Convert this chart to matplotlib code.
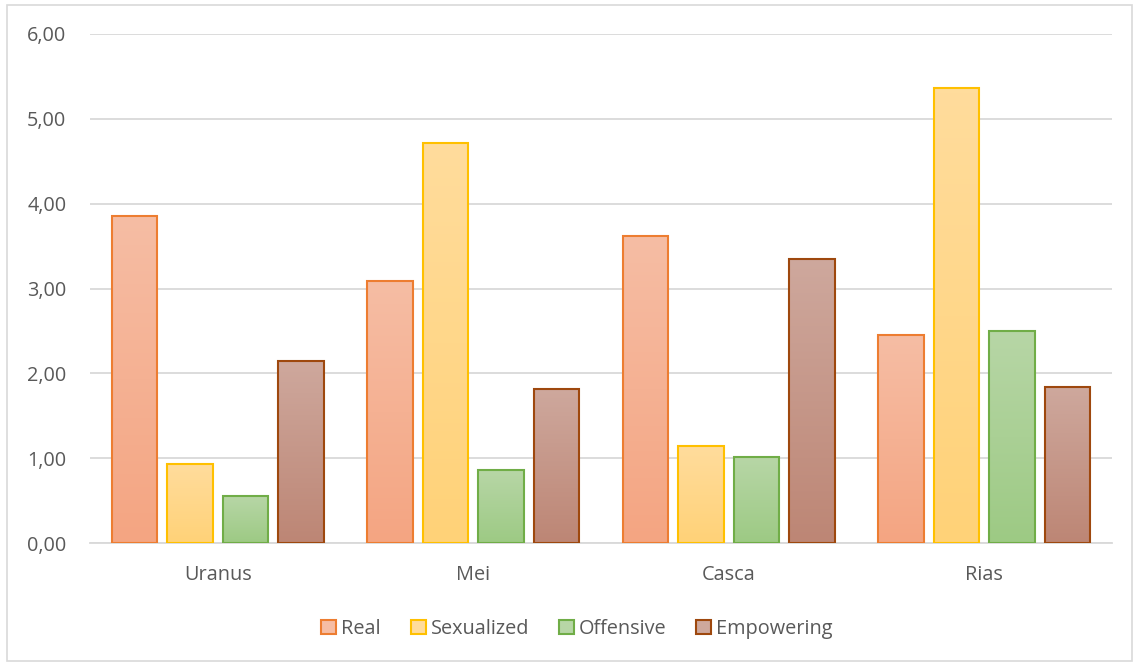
import numpy as np
import matplotlib.pyplot as plt
import matplotlib.colors as mcolors
from matplotlib.patches import Rectangle, Patch

# Dados
personagens = ['Uranus', 'Mei', 'Casca', 'Rias']
real = [3.86, 3.09, 3.62, 2.45]
sexualized = [0.93, 4.72, 1.14, 5.36]
offensive = [0.55, 0.86, 1.01, 2.50]
empowering = [2.15, 1.82, 3.35, 1.84]

series = ['Real', 'Sexualized', 'Offensive', 'Empowering']
valores = [real, sexualized, offensive, empowering]

# cor topo, cor base, cor borda
cores = [('#F6BDA4', '#F4A582', '#ED7D31'),
         ('#FFDC9C', '#FFD278', '#FFC000'),
         ('#B7D6A6', '#9DCA84', '#70AD47'),
         ('#CEA89D', '#BD8675', '#9E480E')]

plt.rcParams['font.family'] = ['Open Sans', 'DejaVu Sans']

fig = plt.figure(figsize=(11.34, 6.62), dpi=100)
ax = fig.add_axes([90 / 1134, 1 - 543 / 662, 1022 / 1134, 509 / 662])

# moldura do gráfico
fig.patches.append(Rectangle((7 / 1134, 1 / 662), 1125 / 1134, 656 / 662,
                             transform=fig.transFigure, fill=False,
                             edgecolor='#D9D9D9', linewidth=1.2))

x = np.arange(len(personagens))
largura = 0.178
passo = 0.217

for i, (nome, vals, (c_topo, c_base, c_borda)) in enumerate(zip(series, valores, cores)):
    pos = x + (i - 1.5) * passo
    barras = ax.bar(pos, vals, width=largura, color='none', edgecolor=c_borda,
                    linewidth=1.5, zorder=3)
    cmap = mcolors.LinearSegmentedColormap.from_list(nome, [c_base, c_topo])
    grad = np.linspace(0, 1, 100).reshape(-1, 1)
    for b in barras:
        x0, y0 = b.get_x(), b.get_y()
        w, h = b.get_width(), b.get_height()
        img = ax.imshow(grad, cmap=cmap, origin='lower', aspect='auto',
                        extent=(x0, x0 + w, y0, y0 + h), zorder=2)
        img.set_clip_path(b)

ax.set_xlim(-0.5, 3.5)
ax.set_ylim(0, 6)
ax.set_yticks(np.arange(0, 7, 1))
ax.set_yticklabels([f'{v:.2f}'.replace('.', ',') for v in range(7)])
ax.set_xticks(x)
ax.set_xticklabels(personagens)

ax.grid(axis='y', color='#D9D9D9', linewidth=1.3, zorder=0)
for lado in ['top', 'right', 'left']:
    ax.spines[lado].set_visible(False)
ax.spines['bottom'].set_color('#D9D9D9')
ax.spines['bottom'].set_linewidth(1.3)
ax.tick_params(axis='both', length=0, labelsize=14.3, labelcolor='#595959')
ax.tick_params(axis='y', pad=17)
ax.tick_params(axis='x', pad=16)

legenda = [Patch(facecolor=c[0], edgecolor=c[2], linewidth=1.5, label=n)
           for n, c in zip(series, cores)]
fig.legend(handles=legenda, loc='center', bbox_to_anchor=(577 / 1134, 1 - 629 / 662),
           ncol=4, frameon=False, fontsize=14.3, labelcolor='#595959',
           handlelength=0.75, handleheight=0.75, handletextpad=0.25, columnspacing=1.5)

fig.savefig('out.png', dpi=100)
